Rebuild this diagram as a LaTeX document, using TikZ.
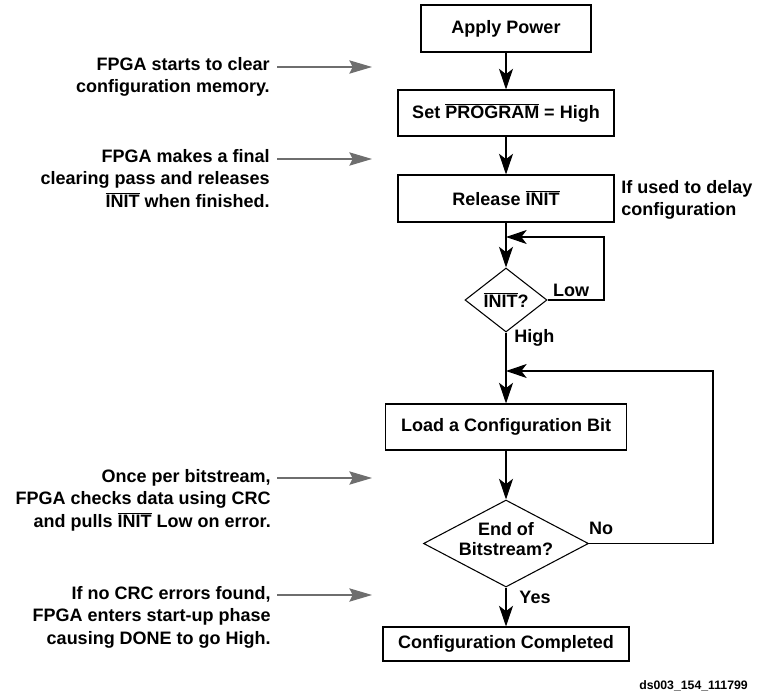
\documentclass[tikz,border=0pt]{standalone}
\usepackage{fontspec}
\setmainfont{Liberation Sans}
\usetikzlibrary{arrows.meta}
\usetikzlibrary{shapes.geometric}
\definecolor{mgray}{rgb}{0.43, 0.43, 0.43}
\newcommand{\ovl}[1]{$\overline{\mbox{#1}}$}
\tikzset{txt/.style = {inner sep = 0, font = \bfseries\fontsize{13.5}{17}\selectfont}}
\tikzset{box/.style = {txt, draw, line width = 0.8pt}}
\tikzset{dec/.style = {draw, diamond, line width = 0.8pt, inner sep = 0}}
\tikzset{flow/.style = {line width = 0.8pt, -{Stealth[length = 15.5pt, width = 10.5pt, inset = 4pt]}}}
\tikzset{note/.style = {mgray, line width = 0.8pt, -{Stealth[length = 17pt, width = 10pt, inset = 2.5pt]}}}

\begin{document}
\begin{tikzpicture}[x = 0.75pt, y = -0.75pt]
      \useasboundingbox (0, 0) rectangle (757, 696);

      % main column
      \node [box, minimum width = 127.5pt, minimum height = 35.25pt] (power) at (506, 28.5) {Apply Power};
      \node [box, minimum width = 162pt, minimum height = 34.5pt] (prog) at (506, 113) {Set \ovl{PROGRAM} = High};
      \node [box, minimum width = 162pt, minimum height = 35.25pt] (rel) at (506, 198.5) {Release \ovl{INIT}};
      \node [dec, minimum width = 61.5pt, minimum height = 48pt] (init) at (506, 300) {};
      \node [txt] (inittxt) at (506, 300) {\ovl{INIT}?};
      \node [box, minimum width = 180.75pt, minimum height = 34.5pt] (load) at (506, 427) {Load a Configuration Bit};
      \node [dec, minimum width = 123.75pt, minimum height = 65.25pt] (endbit) at (506, 543.5) {};
      \node [txt, align = center] (endtxt) at (506, 539) {End of\\[-2.5pt]Bitstream?};
      \node [box, minimum width = 184.5pt, minimum height = 25.5pt] (done) at (506, 644) {Configuration Completed};

      \coordinate (j1) at (506, 237);
      \coordinate (r1) at (604, 237);
      \coordinate (j2) at (506, 371);
      \coordinate (r2) at (713, 371);

      \draw [flow] (power) -- (prog);
      \draw [flow] (prog) -- (rel);
      \draw [flow] (rel) -- (init);
      \draw [flow] (init.east) -| (r1) -- (j1);
      \draw [flow] (init) -- (load);
      \draw [flow] (load) -- (endbit);
      \draw [flow] (endbit.east) -| (r2) -- (j2);
      \draw [flow] (endbit) -- (done);

      \node [txt] (low) at (571, 290) {Low};
      \node [txt, anchor = west] (high) at (514, 338) {High};
      \node [txt] (no) at (601, 528) {No};
      \node [txt] (yes) at (535, 597) {Yes};
      \node [txt, align = left, anchor = west] (delay) at (621, 200) {If used to delay\\configuration};

      % notes on the left
      \node [txt, align = right, anchor = north east] (n1) at (270, 57) {FPGA starts to clear\\configuration memory.};
      \node [txt, align = right, anchor = north east] (n2) at (270, 149) {FPGA makes a final\\clearing pass and releases\\\ovl{INIT} when finished.};
      \node [txt, align = right, anchor = north east] (n3) at (271, 469) {Once per bitstream,\\FPGA checks data using CRC\\and pulls \ovl{INIT} Low on error.};
      \node [txt, align = right, anchor = north east] (n4) at (271, 586) {If no CRC errors found,\\FPGA enters start-up phase\\causing DONE to go High.};

      \foreach \y/\n in {67/1, 159/2, 478/3, 595/4} {
        \coordinate (s\n) at (277, \y);
        \coordinate (e\n) at (372, \y);
        \draw [note] (s\n) -- (e\n);
      }

      \node [txt, font = \bfseries\fontsize{9.2}{11}\selectfont, anchor = east] (id) at (748, 686) {ds003\_154\_111799};
    \end{tikzpicture}
\end{document}
